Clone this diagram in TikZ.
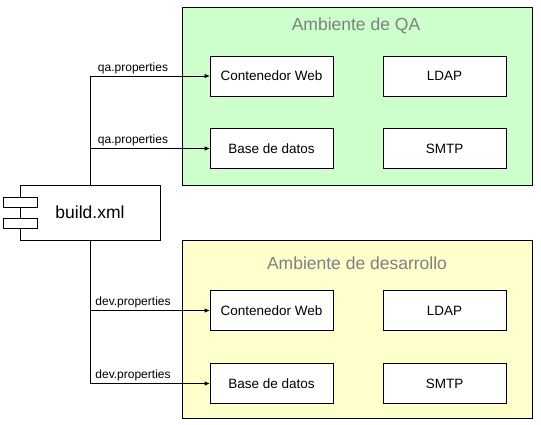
\documentclass[tikz,border=0pt]{standalone}
\usepackage{fontspec}
\setmainfont{Liberation Sans}
\usetikzlibrary{arrows.meta,positioning,calc}
\definecolor{qagreen}{RGB}{204,255,204}
\definecolor{devyellow}{RGB}{255,255,204}
\definecolor{titlegray}{RGB}{128,128,128}
\tikzset{
    envbox/.style={rectangle, draw, line width=1pt, minimum width=350pt, minimum height=178pt},
    envtitle/.style={text=titlegray, font=\fontsize{17.5}{19}\selectfont},
    srvbox/.style={rectangle, draw, fill=white, line width=1pt, minimum width=123pt, minimum height=40pt, font=\fontsize{13.5}{15}\selectfont},
    compbox/.style={rectangle, draw, fill=white, line width=1pt, minimum width=140pt, minimum height=55pt, font=\fontsize{17.5}{19}\selectfont},
    pinbox/.style={rectangle, draw, fill=white, line width=1pt, minimum width=34pt, minimum height=10pt, inner sep=0pt},
    proplabel/.style={font=\fontsize{12}{13}\selectfont, above, inner sep=2pt},
    link/.style={line width=1pt, -{Triangle[length=5pt,width=4pt]}}
}

\begin{document}
\begin{tikzpicture}[x=1pt, y=-1pt]
    \useasboundingbox (0,0) rectangle (541,424);

    % Ambiente de QA
    \node[envbox, fill=qagreen] (qa) at (357,96) {};
    \node[envtitle] (qatitle) at (356,26) {Ambiente de QA};
    \node[srvbox] (qaweb) at (271.5,76) {Contenedor Web};
    \node[srvbox] (qaldap) at (444.5,76) {LDAP};
    \node[srvbox] (qadb) at (271.5,148.5) {Base de datos};
    \node[srvbox] (qasmtp) at (444.5,148.5) {SMTP};

    % Ambiente de desarrollo
    \node[envbox, fill=devyellow] (dev) at (357,329) {};
    \node[envtitle] (devtitle) at (357,263) {Ambiente de desarrollo};
    \node[srvbox] (devweb) at (271.5,310.5) {Contenedor Web};
    \node[srvbox] (devldap) at (444.5,310.5) {LDAP};
    \node[srvbox] (devdb) at (271.5,383.5) {Base de datos};
    \node[srvbox] (devsmtp) at (444.5,383.5) {SMTP};

    % build.xml component
    \node[compbox] (build) at (90,212.5) {build.xml};
    \node[pinbox] (pinA) at (20,202) {};
    \node[pinbox] (pinB) at (20,223) {};

    % Arrows
    \draw[link] (build.north) |- (qaweb.west) node[proplabel, pos=0.68] {qa.properties};
    \draw[link] (build.north) |- (qadb.west) node[proplabel, pos=0.68] {qa.properties};
    \draw[link] (build.south) |- (devweb.west) node[proplabel, pos=0.68] {dev.properties};
    \draw[link] (build.south) |- (devdb.west) node[proplabel, pos=0.68] {dev.properties};
\end{tikzpicture}
\end{document}
